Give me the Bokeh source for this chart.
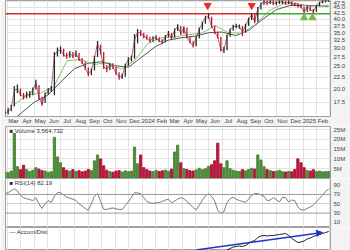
import pandas as pd
from bokeh.plotting import figure
from bokeh.layouts import column
from bokeh.models import (Range1d, FixedTicker, Grid, Label, Arrow, NormalHead,
                          Span, PrintfTickFormatter)
from bokeh.embed import file_html
from bokeh.resources import INLINE

# ---------------- data (weekly) ----------------
first_week = "2023-02-24"
close = [15.7, 16.0, 16.5, 19.7, 20.0, 18.9, 18.5, 18.9, 18.9, 19.7,
         21.3, 18.4, 17.2, 18.9, 19.7, 20.0, 27.8, 29.2, 29.5, 28.1,
         27.6, 28.5, 27.6, 28.5, 26.8, 26.1, 24.6, 23.2, 23.9, 27.3,
         31.3, 28.8, 24.9, 24.3, 25.3, 24.9, 23.4, 22.5, 22.7, 25.3,
         26.8, 27.1, 32.5, 35.2, 34.8, 33.8, 33.2, 32.2, 33.2, 33.2,
         32.2, 31.9, 33.5, 34.8, 33.2, 35.9, 37.3, 34.8, 36.6, 33.5,
         31.9, 30.7, 33.2, 36.2, 38.4, 40.7, 41.1, 37.3, 35.2, 33.5,
         29.5, 29.5, 33.8, 35.9, 37.3, 37.3, 37.3, 35.2, 37.6, 39.9,
         41.9, 39.1, 44.4, 46.6, 47.5, 47.0, 47.5, 47.0, 47.0, 47.5,
         47.5, 47.0, 47.5, 47.0, 46.1, 45.9, 45.3, 43.1, 45.3, 44.0,
         43.1, 45.7, 47.0, 48.0, 48.0, 48.3]
high = [16.3, 16.6, 17.1, 20.6, 20.9, 20.1, 19.2, 19.5, 19.6, 20.3,
        21.9, 20.8, 18.5, 19.3, 20.2, 20.6, 28.9, 30.2, 30.6, 29.8,
        28.7, 29.2, 28.9, 29.3, 28.6, 27.2, 26.3, 24.8, 24.5, 27.8,
        32.2, 31.0, 28.9, 25.4, 25.9, 25.8, 25.0, 23.6, 23.3, 25.7,
        27.4, 27.9, 34.5, 36.3, 35.9, 35.0, 34.3, 33.6, 33.8, 34.1,
        33.4, 32.8, 34.2, 35.6, 34.9, 36.5, 38.1, 37.4, 37.2, 36.8,
        33.7, 32.1, 33.8, 36.8, 39.1, 41.4, 42.3, 41.0, 37.5, 35.4,
        33.6, 30.4, 34.3, 36.5, 37.9, 38.2, 38.0, 37.4, 38.2, 40.6,
        42.5, 42.0, 45.2, 47.3, 48.4, 48.1, 48.6, 48.2, 47.9, 48.5,
        48.3, 48.0, 48.4, 47.9, 47.2, 46.9, 46.4, 45.4, 45.9, 45.5,
        44.3, 46.2, 47.6, 48.6, 48.8, 48.9]
low = [15.4, 15.5, 16.0, 16.8, 19.2, 18.6, 18.0, 18.2, 18.3, 18.8,
       19.9, 18.0, 16.9, 17.4, 18.9, 19.4, 18.8, 27.6, 28.4, 27.6,
       27.0, 27.3, 27.2, 27.5, 26.4, 25.6, 24.2, 22.7, 22.9, 24.0,
       27.5, 28.2, 24.4, 23.6, 24.1, 24.4, 23.0, 21.9, 22.1, 22.6,
       25.1, 26.3, 27.0, 31.5, 33.9, 33.1, 32.6, 31.7, 32.0, 32.5,
       31.8, 31.2, 31.8, 33.4, 32.7, 33.3, 35.6, 34.2, 34.7, 33.0,
       31.4, 30.2, 30.6, 33.0, 36.0, 38.2, 40.2, 36.8, 34.6, 33.0,
       29.0, 28.6, 29.4, 33.6, 35.7, 36.6, 36.4, 33.9, 35.0, 37.4,
       39.7, 38.4, 39.0, 44.1, 46.2, 46.0, 46.6, 46.1, 46.0, 46.5,
       46.6, 46.2, 46.5, 45.9, 45.5, 45.0, 44.6, 42.5, 43.0, 43.4,
       42.5, 43.0, 45.5, 46.8, 47.3, 47.5]
volume_m = [3.5, 3.0, 3.8, 23.0, 6.0, 4.5, 6.8, 4.5, 3.6, 4.2,
            5.5, 4.8, 4.0, 3.8, 3.2, 3.5, 21.0, 11.0, 8.0, 5.5,
            4.2, 3.8, 4.5, 3.6, 4.0, 3.4, 3.8, 4.6, 4.0, 9.0,
            12.0, 10.0, 6.5, 4.2, 3.5, 3.2, 3.8, 4.0, 3.3, 3.9,
            3.5, 3.8, 16.0, 7.5, 12.0, 5.5, 4.5, 3.8, 3.5, 4.2,
            3.6, 3.9, 4.3, 3.7, 4.8, 13.5, 17.0, 8.0, 5.0, 4.6,
            4.0, 3.8, 4.4, 5.2, 4.5, 5.0, 6.2, 7.0, 9.0, 18.0,
            7.5, 5.5, 9.0, 5.0, 4.2, 3.8, 3.6, 4.5, 3.9, 4.6,
            5.2, 4.8, 12.0, 9.4, 6.0, 4.5, 4.0, 3.6, 3.8, 4.2,
            3.5, 3.3, 3.7, 3.4, 4.6, 10.0, 8.0, 5.5, 4.0, 3.8,
            4.5, 3.5, 3.8, 3.4, 3.6, 3.6]
rsi = [72, 74, 78, 82, 78, 68, 63, 61, 59, 57,
       63, 50, 40, 50, 57, 53, 66, 74, 74, 69,
       64, 62, 60, 57, 50, 45, 40, 36, 50, 66,
       72, 55, 38, 38, 40, 41, 39, 38, 38, 46,
       54, 64, 74, 73, 72, 63, 55, 52, 51, 52,
       53, 55, 58, 60, 52, 56, 60, 63, 61, 55,
       49, 42, 37, 47, 58, 67, 72, 66, 56, 36,
       30, 33, 53, 61, 64, 60, 57, 55, 53, 60,
       68, 72, 72, 69, 66, 57, 58, 63, 59, 54,
       64, 63, 54, 58, 57, 43, 37, 37, 40, 43,
       47, 54, 62, 68, 77, 82.19]
accum_dist = [10, 10.5, 11, 14, 14.5, 14, 13.8, 14.2, 14.5, 15,
              16, 15, 14, 14.5, 15, 15.3, 20, 22, 23, 23.5,
              24, 23.8, 24.2, 24, 23.5, 23, 22.5, 22, 23, 25,
              27, 26, 24, 23.8, 24.2, 24, 23.5, 23, 23.2, 24,
              25, 25.5, 29, 31, 33, 32.5, 32, 31.5, 32, 32.2,
              40, 40.5, 41, 42, 42, 44, 46, 45.5, 46, 46,
              47, 47.5, 48.5, 50, 51.5, 53, 55, 55, 54, 54.5,
              56, 58, 60.5, 62, 63.5, 64, 64.5, 64, 65, 67,
              69, 70, 73, 74.5, 75, 74.5, 75, 75, 75.5, 76,
              76.5, 77, 75, 72, 70, 68, 68.5, 69.5, 71.5, 72.5,
              74, 75, 76, 77, 78, 79]

ma_fast_dates = ["2023-03-15", "2023-04-15", "2023-05-15", "2023-06-15", "2023-07-15",
                 "2023-08-15", "2023-09-15", "2023-10-15", "2023-11-15", "2023-12-15",
                 "2024-01-15", "2024-02-15", "2024-03-15", "2024-04-15", "2024-05-15",
                 "2024-06-15", "2024-07-15", "2024-08-15", "2024-09-15", "2024-10-15",
                 "2024-11-15", "2024-12-15", "2025-01-15", "2025-02-28"]
ma_fast = [17.0, 18.8, 19.2, 20.5, 26.5, 26.8, 25.5, 26.0, 24.3, 26.5,
           31.5, 33.3, 33.5, 34.3, 34.8, 37.5, 35.0, 34.8, 38.0, 43.5,
           46.5, 46.8, 45.5, 46.0]
ma_slow_dates = ["2023-03-20", "2023-05-01", "2023-06-01", "2023-07-01", "2023-08-01",
                 "2023-09-01", "2023-10-01", "2023-11-01", "2023-12-01", "2024-01-01",
                 "2024-02-01", "2024-03-01", "2024-04-01", "2024-05-01", "2024-06-01",
                 "2024-07-01", "2024-08-01", "2024-09-01", "2024-10-01", "2024-11-01",
                 "2024-12-01", "2025-01-01", "2025-02-28"]
ma_slow = [15.0, 17.5, 18.8, 21.5, 24.5, 25.8, 26.2, 25.2, 24.8, 27.5,
           30.5, 32.5, 33.3, 33.8, 35.0, 35.2, 34.0, 36.0, 40.0, 44.0,
           45.8, 46.0, 45.5]

level = 42.2
level_flip_date = "2024-09-18"
red_arrow_dates = ["2024-05-29", "2024-09-06"]
red_arrow_y = [45.9, 45.9]
green_arrow_dates = ["2025-01-03", "2025-01-22"]
green_arrow_y = [40.6, 40.6]
trend_dates = ["2024-05-02", "2025-02-14"]
trend_values = [60.5, 78.0]

price_ticks = [17.5, 20.0, 22.5, 25.0, 27.5, 30.0, 32.5, 35.0, 37.5, 40.0, 42.5, 45.0, 47.5]
vol_ticks = [5, 10, 15, 20, 25]
rsi_ticks = [10, 30, 50, 70, 90]
month_labels = ["Mar", "Apr", "May", "Jun", "Jul", "Aug", "Sep", "Oct", "Nov", "Dec", "2024", "Feb",
                "Mar", "Apr", "May", "Jun", "Jul", "Aug", "Sep", "Oct", "Nov", "Dec", "2025", "Feb"]

x_start, x_end = "2023-02-25", "2025-03-04"

# ---------------- helpers ----------------
def ms(d):
    return pd.Timestamp(d).value / 1e6

dates = pd.date_range(first_week, periods=len(close), freq="7D")
month_starts = pd.date_range("2023-03-01", "2025-03-01", freq="MS")
label_ticks = [ms(d + pd.Timedelta(days=14)) for d in month_starts[:-1]]
grid_ticks = [ms(d) for d in month_starts]

UP, DOWN = "#2a2a2a", "#c8102e"
VUP, VDOWN = "#4f8a3c", "#b3183c"
prev = [close[0]] + close[:-1]
candle_colors = [UP if c >= p else DOWN for c, p in zip(close, prev)]
vol_colors = [VUP if c >= p else VDOWN for c, p in zip(close, prev)]

xr = Range1d(ms(x_start), ms(x_end))
FONT = "Liberation Sans"
BORDER = "#f3f3f3"
GRID = "#e3e3e3"
TXT = "#444444"


def base(h, ytype="linear", yr=None):
    p = figure(width=350, height=h, x_axis_type="datetime", y_axis_type=ytype,
               x_range=xr, y_range=yr, y_axis_location="right",
               output_backend="svg", toolbar_location=None,
               min_border_left=5, min_border_right=20, min_border_top=0, min_border_bottom=0)
    p.grid.visible = False
    p.add_layout(Grid(dimension=0, ticker=FixedTicker(ticks=grid_ticks), grid_line_color=GRID))
    p.outline_line_color = "#a0a0a0"
    p.border_fill_color = BORDER
    p.background_fill_color = "white"
    ya = p.yaxis[0]
    ya.major_tick_out = 0
    ya.major_tick_in = 0
    ya.minor_tick_line_color = None
    ya.axis_line_color = None
    ya.major_label_standoff = 3
    ya.major_label_text_font_size = "6px"
    ya.major_label_text_font = FONT
    ya.major_label_text_color = TXT
    return p


def panel_label(p, text, ytop):
    p.add_layout(Label(x=ms(x_start), y=ytop, x_offset=4, y_offset=-1, text=text,
                       text_font_size="6px", text_font=FONT, text_color="#333333",
                       text_baseline="top"))


# ---------------- price panel ----------------
p1 = base(126, "log", Range1d(15.2, 48.2))
p1.add_layout(Grid(dimension=1, ticker=FixedTicker(ticks=price_ticks), grid_line_color=GRID))
p1.yaxis[0].ticker = FixedTicker(ticks=price_ticks)
p1.yaxis[0].formatter = PrintfTickFormatter(format="%.1f")
xa = p1.xaxis[0]
xa.ticker = FixedTicker(ticks=label_ticks)
xa.major_label_overrides = {t: lab for t, lab in zip(label_ticks, month_labels)}
xa.major_tick_out = 0
xa.major_tick_in = 0
xa.minor_tick_line_color = None
xa.axis_line_color = "#a0a0a0"
xa.major_label_standoff = 1
xa.major_label_text_font_size = "6px"
xa.major_label_text_font = FONT
xa.major_label_text_color = TXT

p1.line([ms(d) for d in ma_slow_dates], ma_slow, color="#555555", line_width=1)
p1.line([ms(d) for d in ma_fast_dates], ma_fast, color="#86c470", line_width=1)
p1.line([ms(x_start), ms(level_flip_date)], [level, level], color="#d8292f", line_width=1.5)
p1.line([ms(level_flip_date), ms(x_end)], [level, level], color="#3fa535", line_width=1.5)
p1.segment(x0=dates, y0=low, x1=dates, y1=high, color=candle_colors, line_width=1.3)
p1.line(dates, close, color="#6a1a22", line_width=0.6)
p1.scatter([ms(d) for d in red_arrow_dates], red_arrow_y, marker="inverted_triangle",
           size=7, color="#e0302a")
p1.scatter([ms(d) for d in green_arrow_dates], green_arrow_y, marker="triangle",
           size=7, color="#76b74a")

# ---------------- volume panel ----------------
vol_top = 26.5
p2 = base(52, yr=Range1d(0, vol_top))
p2.xaxis.visible = False
p2.add_layout(Grid(dimension=1, ticker=FixedTicker(ticks=vol_ticks), grid_line_color=GRID))
p2.yaxis[0].ticker = FixedTicker(ticks=vol_ticks)
p2.yaxis[0].formatter = PrintfTickFormatter(format="%dM")
p2.vbar(x=dates, top=volume_m, width=5 * 86400000, color=vol_colors)
panel_label(p2, "\u25a0 Volume 3,564,732", vol_top)

# ---------------- RSI panel ----------------
rsi_top = 104.3
p3 = base(49, yr=Range1d(-0.9, rsi_top))
p3.xaxis.visible = False
p3.add_layout(Grid(dimension=1, ticker=FixedTicker(ticks=[50]), grid_line_color="#cfcfcf"))
p3.yaxis[0].ticker = FixedTicker(ticks=rsi_ticks)
p3.add_layout(Span(location=70, dimension="width", line_color="#9a9a9a", line_width=1))
p3.add_layout(Span(location=30, dimension="width", line_color="#9a9a9a", line_width=1))
p3.line(dates, rsi, color="#7a7a7a", line_width=1)
panel_label(p3, "\u25a0 RSI(14) 82.19", rsi_top)

# ---------------- Accum/Dist panel ----------------
ad_top = 83
p4 = base(23, yr=Range1d(60, ad_top))
p4.xaxis.visible = False
p4.yaxis.visible = False
p4.line(dates, accum_dist, color="#222222", line_width=1)
p4.add_layout(Arrow(x_start=ms(trend_dates[0]), y_start=trend_values[0],
                    x_end=ms(trend_dates[1]), y_end=trend_values[1],
                    line_color="#2233cc", line_width=1.5,
                    end=NormalHead(size=6, fill_color="#2233cc", line_color="#2233cc")))
panel_label(p4, "\u2014 Accum/Dist", ad_top)

layout = column(p1, p2, p3, p4, spacing=0)
open("out.html", "w").write(file_html(layout, INLINE))
